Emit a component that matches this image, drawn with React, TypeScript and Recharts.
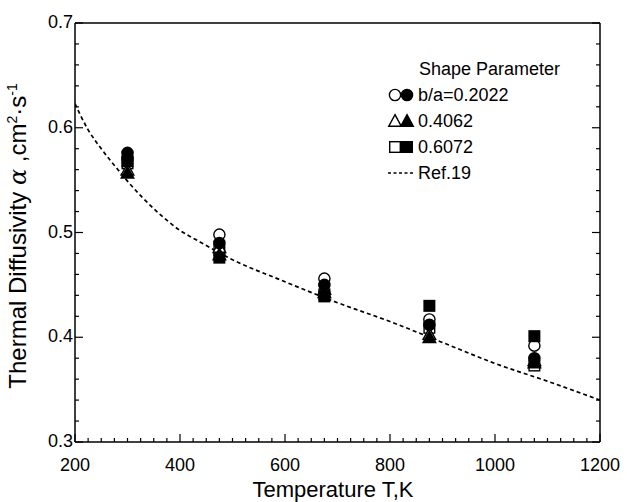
import React from 'react';
import { ComposedChart, Line, Scatter, XAxis, YAxis } from 'recharts';

// ── Data ──────────────────────────────────────────────────────────────────────

const temps = [300, 475, 675, 875, 1075];

// b/a = 0.2022
const circleOpen   = [0.571, 0.498, 0.456, 0.417, 0.392];
const circleFilled = [0.576, 0.490, 0.450, 0.412, 0.380];
// b/a = 0.4062
const triOpen      = [0.560, 0.486, 0.446, 0.403, 0.378];
const triFilled    = [0.557, 0.479, 0.443, 0.400, 0.376];
// b/a = 0.6072
const sqOpen       = [0.566, 0.483, 0.441, 0.409, 0.373];
const sqFilled     = [0.568, 0.476, 0.439, 0.430, 0.401];

// Ref.19 curve
const refT = [200, 225, 250, 285, 300, 356, 400, 438, 500, 590, 700, 800, 905, 1000, 1100, 1200];
const refA = [0.623, 0.598, 0.580, 0.558, 0.549, 0.520, 0.502, 0.491, 0.474, 0.455, 0.433, 0.415, 0.394, 0.375, 0.358, 0.340];

const xMajor = [200, 400, 600, 800, 1000, 1200];
const yMajor = [0.3, 0.4, 0.5, 0.6, 0.7];

// ── Layout / style ────────────────────────────────────────────────────────────

const W = 627;
const H = 502;
const FONT = '"Liberation Sans", Arial, Helvetica, sans-serif';
const TICK_FS = 18;

const xTicks: number[] = [];
for (let v = xMajor[0]; v <= xMajor[xMajor.length - 1]; v += 25) xTicks.push(v);
const yTicks: number[] = [];
for (let i = 0; i <= 20; i++) yTicks.push(Math.round((0.3 + i * 0.02) * 100) / 100);

const isMajorX = (v: number) => xMajor.includes(v);
const isMajorY = (v: number) => yMajor.some((m) => Math.abs(m - v) < 1e-6);

const pts = (ys: number[]) => temps.map((t, i) => ({ t, a: ys[i] }));
const refData = refT.map((t, i) => ({ t, a: refA[i] }));

// ── Ticks (inward, major + minor) ─────────────────────────────────────────────

function BottomTick({ x, y, payload }: any) {
  const major = isMajorX(payload.value);
  return (
    <g>
      <line x1={x} x2={x} y1={y} y2={y - (major ? 8 : 4)} stroke="#000" strokeWidth={1.2} />
      {major && (
        <text x={x} y={y + 29} textAnchor="middle" fontSize={TICK_FS} fontFamily={FONT} fill="#000">
          {payload.value}
        </text>
      )}
    </g>
  );
}

function TopTick({ x, y, payload }: any) {
  const major = isMajorX(payload.value);
  return <line x1={x} x2={x} y1={y} y2={y + (major ? 8 : 4)} stroke="#000" strokeWidth={1.2} />;
}

function LeftTick({ x, y, payload }: any) {
  const major = isMajorY(payload.value);
  return (
    <g>
      <line x1={x} x2={x + (major ? 8 : 4)} y1={y} y2={y} stroke="#000" strokeWidth={1.2} />
      {major && (
        <text x={x - 2} y={y + 5} textAnchor="end" fontSize={TICK_FS} fontFamily={FONT} fill="#000">
          {payload.value.toFixed(1)}
        </text>
      )}
    </g>
  );
}

function RightTick({ x, y, payload }: any) {
  const major = isMajorY(payload.value);
  return <line x1={x} x2={x - (major ? 8 : 4)} y1={y} y2={y} stroke="#000" strokeWidth={1.2} />;
}

// ── Markers ───────────────────────────────────────────────────────────────────

type Kind = 'circle' | 'tri' | 'square';

function markerEl(kind: Kind, filled: boolean, cx: number, cy: number, key?: string) {
  const style = { fill: filled ? '#000' : '#fff', stroke: '#000', strokeWidth: 1.4 };
  if (kind === 'circle') return <circle key={key} cx={cx} cy={cy} r={5.6} {...style} />;
  if (kind === 'square') return <rect key={key} x={cx - 5.3} y={cy - 5.3} width={10.6} height={10.6} {...style} />;
  return <polygon key={key} points={`${cx},${cy - 6.3} ${cx + 6.3},${cy + 5.3} ${cx - 6.3},${cy + 5.3}`} {...style} />;
}

const shape = (kind: Kind, filled: boolean) => (p: any) => markerEl(kind, filled, p.cx, p.cy);

// ── Overlay: legend + axis titles ─────────────────────────────────────────────

const legendRows: { kind: Kind | 'line'; label: string }[] = [
  { kind: 'circle', label: 'b/a=0.2022' },
  { kind: 'tri', label: '0.4062' },
  { kind: 'square', label: '0.6072' },
  { kind: 'line', label: 'Ref.19' },
];

function Overlay() {
  const textX = 418;
  const top = 75;
  const step = 26;
  return (
    <svg width={W} height={H} style={{ position: 'absolute', left: 0, top: 0, pointerEvents: 'none' }}>
      <text x={419} y={top} fontSize={TICK_FS} fontFamily={FONT} fill="#000">Shape Parameter</text>
      {legendRows.map((r, i) => {
        const base = top + step * (i + 1);
        const cy = base - 6;
        return (
          <g key={r.label}>
            {r.kind === 'line' ? (
              <line x1={388} x2={413} y1={cy} y2={cy} stroke="#000" strokeWidth={1.6} strokeDasharray="3 2.5" />
            ) : (
              <>
                {markerEl(r.kind, false, 395, cy, 'o')}
                {markerEl(r.kind, true, 407, cy, 'f')}
              </>
            )}
            <text x={textX} y={base} fontSize={TICK_FS} fontFamily={FONT} fill="#000">{r.label}</text>
          </g>
        );
      })}

      <text x={333} y={497} textAnchor="middle" fontSize={22} fontFamily={FONT} fill="#000">
        Temperature T,K
      </text>

      <text transform="translate(26,236) rotate(-90)" textAnchor="middle" fontSize={24} fontFamily={FONT} fill="#000">
        Thermal Diffusivity <tspan fontStyle="italic" fontFamily='"DejaVu Serif", serif'>α</tspan> ,cm
        <tspan fontSize={14} dy={-9}>2</tspan>
        <tspan dy={9}>·s</tspan>
        <tspan fontSize={14} dy={-9}>-1</tspan>
      </text>
    </svg>
  );
}

// ── Main ──────────────────────────────────────────────────────────────────────

export default function App() {
  return (
    <div style={{ position: 'absolute', left: 0, top: 0, width: W, height: H, background: '#fff' }}>
      <ComposedChart width={W} height={H} margin={{ top: 22, right: 26, bottom: 59, left: 74 }}>
        <XAxis
          xAxisId="b" dataKey="t" type="number" domain={[200, 1200]} allowDataOverflow
          ticks={xTicks} interval={0} height={1} tickSize={0} tickMargin={0}
          tickLine={false} axisLine={{ stroke: '#000', strokeWidth: 1.5 }} tick={<BottomTick />}
        />
        <XAxis
          xAxisId="t" orientation="top" type="number" domain={[200, 1200]} allowDataOverflow
          ticks={xTicks} interval={0} height={1} tickSize={0} tickMargin={0}
          tickLine={false} axisLine={{ stroke: '#000', strokeWidth: 1.5 }} tick={<TopTick />}
        />
        <YAxis
          yAxisId="l" dataKey="a" type="number" domain={[0.3, 0.7]} allowDataOverflow
          ticks={yTicks} interval={0} width={1} tickSize={0} tickMargin={0}
          tickLine={false} axisLine={{ stroke: '#000', strokeWidth: 1.5 }} tick={<LeftTick />}
        />
        <YAxis
          yAxisId="r" orientation="right" type="number" domain={[0.3, 0.7]} allowDataOverflow
          ticks={yTicks} interval={0} width={1} tickSize={0} tickMargin={0}
          tickLine={false} axisLine={{ stroke: '#000', strokeWidth: 1.5 }} tick={<RightTick />}
        />

        <Line
          data={refData} dataKey="a" xAxisId="b" yAxisId="l" type="monotone"
          stroke="#000" strokeWidth={1.7} strokeDasharray="4 3" dot={false} isAnimationActive={false}
        />

        <Scatter data={pts(sqOpen)} xAxisId="b" yAxisId="l" shape={shape('square', false)} isAnimationActive={false} />
        <Scatter data={pts(triOpen)} xAxisId="b" yAxisId="l" shape={shape('tri', false)} isAnimationActive={false} />
        <Scatter data={pts(circleOpen)} xAxisId="b" yAxisId="l" shape={shape('circle', false)} isAnimationActive={false} />
        <Scatter data={pts(triFilled)} xAxisId="b" yAxisId="l" shape={shape('tri', true)} isAnimationActive={false} />
        <Scatter data={pts(circleFilled)} xAxisId="b" yAxisId="l" shape={shape('circle', true)} isAnimationActive={false} />
        <Scatter data={pts(sqFilled)} xAxisId="b" yAxisId="l" shape={shape('square', true)} isAnimationActive={false} />
      </ComposedChart>
      <Overlay />
    </div>
  );
}
